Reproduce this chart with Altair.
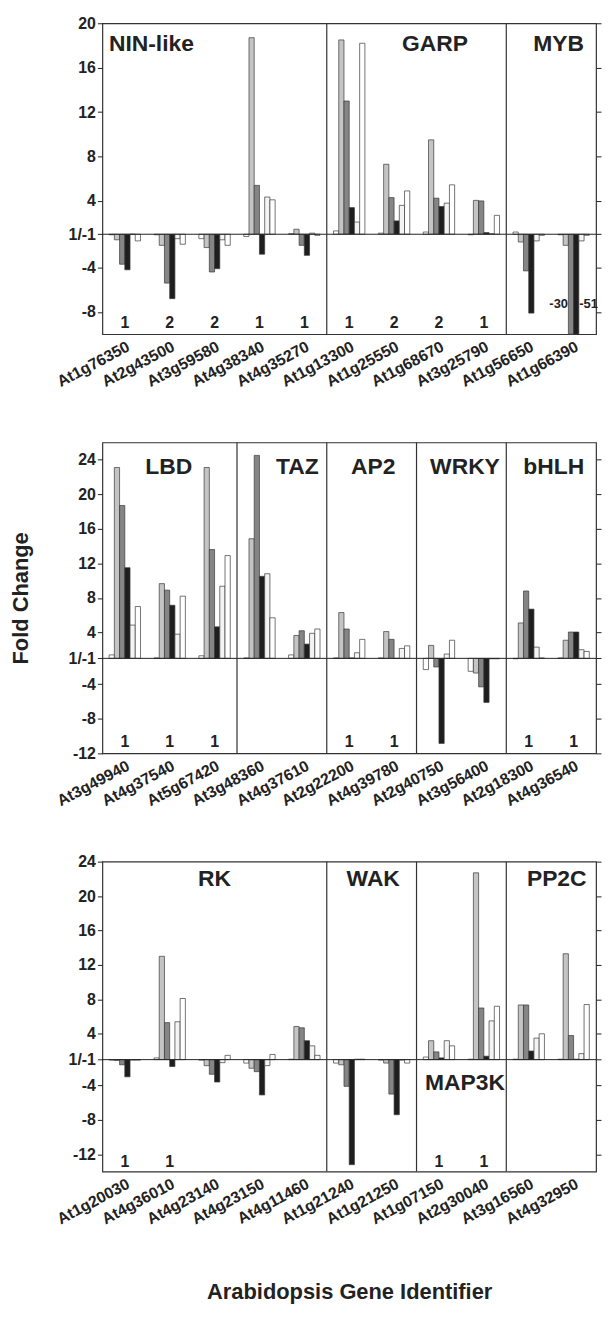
import altair as alt
import pandas as pd

FONT = "Liberation Sans"
INK = "#222222"

series = ["s1", "s2", "s3", "s4", "s5", "s6"]
series_colors = ["#ffffff", "#c4c4c4", "#858585", "#1e1e1e", "#f4f4f4", "#ffffff"]

# ---------------- top panel ----------------
top_genes = ["At1g76350", "At2g43500", "At3g59580", "At4g38340", "At4g35270",
             "At1g13300", "At1g25550", "At1g68670", "At3g25790",
             "At1g56650", "At1g66390"]
top_s1 = [-1.05, -1.05, -1.4, -1.2, 1.05, 1.3, 1.1, 1.2, -1.05, 1.2, -1.05]
top_s2 = [-1.5, -2.0, -2.2, 18.7, 1.45, 18.5, 7.3, 9.5, 4.05, -1.7, -2.0]
top_s3 = [-3.7, -5.4, -4.4, 5.4, -2.0, 13.0, 4.3, 4.25, 4.0, -4.3, -30]
top_s4 = [-4.2, -6.8, -4.1, -2.8, -2.9, 3.4, 2.2, 3.5, 1.15, -8.1, -51]
top_s5 = [-1.0, -1.4, -1.5, 4.35, 1.1, 2.1, 3.6, 3.8, 1.05, -1.6, -1.6]
top_s6 = [-1.6, -1.9, -2.0, 4.1, -1.1, 18.2, 4.9, 5.45, 2.7, -1.1, -1.1]
top_counts = ["1", "2", "2", "1", "1", "1", "2", "2", "1", "", ""]
top_dividers = ["At1g13300", "At1g56650"]
top_groups = ["NIN-like", "GARP", "MYB"]
top_group_anchor = ["At1g76350", "At1g68670", "At1g66390"]
top_ticks = [-7, -3, 0, 3, 7, 11, 15, 19]
top_domain = [-9, 19]

# ---------------- middle panel ----------------
mid_genes = ["At3g49940", "At4g37540", "At5g67420", "At3g48360", "At4g37610",
             "At2g22200", "At4g39780", "At2g40750", "At3g56400",
             "At2g18300", "At4g36540"]
mid_s1 = [1.4, 1.05, 1.3, 1.05, 1.4, 1.05, 1.05, -2.3, -2.5, -1.05, 1.05]
mid_s2 = [23.1, 9.65, 23.1, 14.85, 3.65, 6.3, 4.1, 2.5, -2.7, 5.1, 3.1]
mid_s3 = [18.7, 8.9, 13.6, 24.5, 4.2, 4.4, 3.2, -2.0, -4.3, 8.8, 4.05]
mid_s4 = [11.5, 7.15, 4.65, 10.5, 2.65, 1.05, 1.0, -10.85, -6.1, 6.7, 4.05]
mid_s5 = [4.85, 3.8, 9.35, 10.8, 3.9, 1.65, 2.15, 1.5, -1.05, 2.3, 2.0]
mid_s6 = [7.0, 8.2, 12.9, 5.7, 4.4, 3.2, 2.45, 3.1, -1.05, 1.05, 1.8]
mid_counts = ["1", "1", "1", "", "", "1", "1", "", "", "1", "1"]
mid_dividers = ["At3g48360", "At2g22200", "At2g40750", "At2g18300"]
mid_groups = ["LBD", "TAZ", "AP2", "WRKY", "bHLH"]
mid_group_anchor = ["At4g37540", "At4g37610", "At4g39780", "At3g56400", "At4g36540"]
mid_ticks = [-11, -7, -3, 0, 3, 7, 11, 15, 19, 23]
mid_domain = [-11, 25]

# ---------------- bottom panel ----------------
bot_genes = ["At1g20030", "At4g36010", "At4g23140", "At4g23150", "At4g11460",
             "At1g21240", "At1g21250", "At1g07150", "At2g30040",
             "At3g16560", "At4g32950"]
bot_s1 = [-1.05, 1.2, -1.05, -1.4, 1.05, -1.4, -1.05, 1.3, 1.05, 1.05, 1.05]
bot_s2 = [-1.1, 13.0, -1.7, -2.0, 4.85, -1.6, -1.4, 3.2, 22.7, 7.35, 13.3]
bot_s3 = [-1.6, 5.3, -2.7, -2.4, 4.7, -4.1, -5.0, 1.9, 7.0, 7.35, 3.8]
bot_s4 = [-3.0, -1.8, -3.6, -5.1, 3.2, -13.2, -7.4, 1.2, 1.4, 2.0, 1.05]
bot_s5 = [-1.05, 5.4, -1.35, -1.7, 2.6, 1.05, -1.05, 3.2, 5.5, 3.5, 1.7]
bot_s6 = [-1.05, 8.1, 1.5, 1.6, 1.5, 1.05, -1.4, 2.6, 7.2, 4.0, 7.4]
bot_counts = ["1", "1", "", "", "", "", "", "1", "1", "", ""]
bot_dividers = ["At1g21240", "At1g07150", "At3g16560"]
bot_groups = ["RK", "WAK", "MAP3K", "PP2C"]
bot_group_anchor = ["At4g23140", "At1g21250", "At2g30040", "At4g32950"]
bot_ticks = [-11, -7, -3, 0, 3, 7, 11, 15, 19, 23]
bot_domain = [-13, 23]

W = 497
BAND = W / 11.0
OFFSET_RANGE = [6.8, BAND - 6.8]
LABEL_EXPR = ("datum.value == 0 ? '1/-1' : (datum.value > 0 ? "
              "'' + (datum.value + 1) : '' + (datum.value - 1))")


def offset_enc():
    return alt.XOffset("series:N",
                       scale=alt.Scale(domain=series, range=OFFSET_RANGE,
                                       paddingInner=0, paddingOuter=0))


def panel(genes, vals, counts, dividers, groups, anchors, label_style,
          ticks, domain, y_title=None, x_title=None):
    rows = []
    for s, vs in zip(series, vals):
        for g, v in zip(genes, vs):
            rows.append({"gene": g, "series": s, "fold": v})
    df = pd.DataFrame(rows)

    xscale = alt.Scale(domain=genes, paddingInner=0, paddingOuter=0)
    xaxis_kw = dict(labelAngle=-28, labelAlign="right", labelBaseline="top",
                    labelPadding=4, ticks=False, domain=False, grid=False,
                    labelFont=FONT, labelFontSize=16, labelFontWeight="bold",
                    labelColor=INK, labelOverlap=False, labelFlush=False,
                    titleFont=FONT, titleFontSize=22, titleFontWeight="bold",
                    titleColor=INK, titlePadding=55)
    xaxis_kw["title"] = x_title if x_title else None
    xaxis = alt.Axis(**xaxis_kw)
    xenc = alt.X("gene:N", scale=xscale, axis=xaxis)

    yscale = alt.Scale(domain=domain, clamp=True, nice=False, zero=False)
    yaxis_kw = dict(values=ticks, labelExpr=LABEL_EXPR, tickSize=5,
                    tickColor=INK, tickWidth=1, domain=False, grid=False,
                    labelFont=FONT, labelFontSize=16, labelFontWeight="bold",
                    labelColor=INK, labelPadding=2,
                    titleFont=FONT, titleFontSize=22, titleFontWeight="bold",
                    titleColor=INK, titlePadding=36)
    yaxis_kw["title"] = y_title if y_title else None
    yaxis = alt.Axis(**yaxis_kw)
    raxis = alt.Axis(orient="right", values=ticks, labels=False, tickSize=5,
                     tickColor=INK, tickWidth=1, domain=False, grid=False,
                     title=None)

    base = alt.Chart(df).transform_calculate(
        pos="datum.fold >= 1 ? datum.fold - 1 : datum.fold + 1"
    )
    bars = base.mark_bar(stroke="#3a3a3a", strokeWidth=0.7).encode(
        x=xenc,
        xOffset=offset_enc(),
        y=alt.Y("pos:Q", scale=yscale, axis=yaxis),
        y2=alt.datum(0),
        color=alt.Color("series:N",
                        scale=alt.Scale(domain=series, range=series_colors),
                        legend=None),
    )

    baseline = alt.Chart(pd.DataFrame({"z": [0]})).mark_rule(
        color=INK, strokeWidth=1
    ).encode(y=alt.YDatum(0, type="quantitative", scale=yscale, axis=raxis))

    div = alt.Chart(pd.DataFrame({"gene": dividers})).mark_rule(
        color="#333333", strokeWidth=1.2
    ).encode(x=alt.X("gene:N", bandPosition=0, scale=xscale, axis=xaxis))

    cnt_df = pd.DataFrame({"gene": genes, "count": counts})
    cnt = alt.Chart(cnt_df).transform_filter("datum.count != ''").mark_text(
        font=FONT, fontSize=16, fontWeight="bold", color=INK, baseline="middle"
    ).encode(x=xenc, y=alt.value(302), text="count:N")

    layers = [bars, baseline, div, cnt]

    for name, anc, (dx, ypx, align) in zip(groups, anchors, label_style):
        layers.append(
            alt.Chart(pd.DataFrame({"gene": [anc], "label": [name]})).mark_text(
                font=FONT, fontSize=23, fontWeight="bold", color=INK,
                baseline="middle", align=align, dx=dx
            ).encode(x=xenc, y=alt.value(ypx), text="label:N")
        )

    return layers, xenc


top_layers, top_x = panel(
    top_genes, [top_s1, top_s2, top_s3, top_s4, top_s5, top_s6], top_counts,
    top_dividers, top_groups, top_group_anchor,
    [(-16, 21, "left"), (-4, 21, "center"), (-15, 21, "center")],
    top_ticks, top_domain,
)

# off-scale values written next to the clipped MYB bars
big = pd.DataFrame({"gene": [top_genes[10], top_genes[10]],
                    "series": ["s3", "s4"],
                    "fold": [top_s3[10], top_s4[10]]})
big_base = alt.Chart(big).transform_calculate(lbl="'' + datum.fold")
lab30 = big_base.transform_filter("datum.series == 's3'").mark_text(
    font=FONT, fontSize=13, fontWeight="bold", color=INK, align="right", dx=-3,
    baseline="middle"
).encode(x=top_x, xOffset=offset_enc(), y=alt.value(283), text="lbl:N")
lab51 = big_base.transform_filter("datum.series == 's4'").mark_text(
    font=FONT, fontSize=13, fontWeight="bold", color=INK, align="left", dx=3,
    baseline="middle"
).encode(x=top_x, xOffset=offset_enc(), y=alt.value(283), text="lbl:N")
top = alt.layer(*top_layers, lab30, lab51).resolve_axis(
    y="independent").properties(width=W, height=313)

mid_layers, _ = panel(
    mid_genes, [mid_s1, mid_s2, mid_s3, mid_s4, mid_s5, mid_s6], mid_counts,
    mid_dividers, mid_groups, mid_group_anchor,
    [(-1, 25, "center"), (-7, 25, "center"), (-21, 25, "center"),
     (-19, 25, "center"), (-20, 25, "center")],
    mid_ticks, mid_domain, y_title="Fold Change",
)
mid = alt.layer(*mid_layers).resolve_axis(y="independent").properties(
    width=W, height=313)

bot_layers, _ = panel(
    bot_genes, [bot_s1, bot_s2, bot_s3, bot_s4, bot_s5, bot_s6], bot_counts,
    bot_dividers, bot_groups, bot_group_anchor,
    [(0, 18, "center"), (-21, 18, "center"), (-19, 223, "center"),
     (-17, 18, "center")],
    bot_ticks, bot_domain, x_title="Arabidopsis Gene Identifier",
)
bot = alt.layer(*bot_layers).resolve_axis(y="independent").properties(
    width=W, height=312)

chart = alt.vconcat(top, mid, bot, spacing=109, bounds="flush").properties(
    padding={"left": 0, "top": 2, "right": 0, "bottom": 0},
    background="white",
).configure_view(stroke="#333333", strokeWidth=1.2)

chart.save("out.html", embed_options={"renderer": "svg", "actions": False})
